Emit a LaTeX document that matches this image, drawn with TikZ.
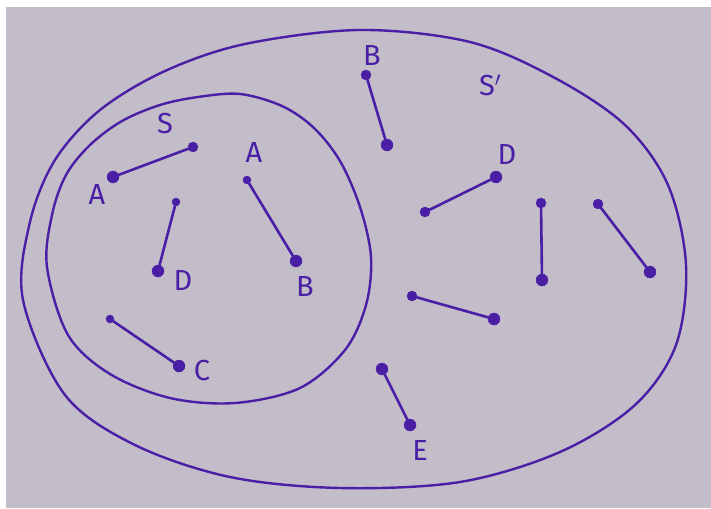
\documentclass[tikz,border=0pt]{standalone}
\usepackage{fontspec}
\setmainfont{Fira Sans}
\definecolor{paper}{HTML}{C2BDC9}
\definecolor{ink}{HTML}{4A1FA6}
\begin{document}
\begin{tikzpicture}[x=1pt,y=-1pt,
  dot/.style={circle,fill=ink,draw=ink,inner sep=0pt,minimum size=10pt},
  bigdot/.style={dot,minimum size=12pt},
  seg/.style={draw=ink,line width=2.6pt,line cap=round},
  rim/.style={draw=ink,line width=2.4pt},
  lab/.style={text=ink,font=\fontsize{29}{29}\selectfont,inner sep=0pt}]
\fill[white] (0,0) rectangle (711,508);
\fill[paper] (6,7) rectangle (711,508);
\useasboundingbox (0,0) rectangle (711,508);
% outer set S'
\draw[rim] plot[smooth cycle,tension=0.55] coordinates {
 (23,300) (30,222) (55,160) (100,110) (165,71) (245,44) (360,30)
 (470,42) (555,78) (625,125) (668,185) (686,265)
 (676,345) (635,405) (560,452) (460,482) (340,488)
 (230,477) (135,445) (65,395)};
% inner set S
\draw[rim] plot[smooth cycle,tension=0.55] coordinates {
 (47,267) (52,215) (66,175) (90,145) (122,121) (160,105) (198,97)
 (240,94) (282,106) (314,128) (340,161) (360,207) (371,257)
 (366,305) (345,350) (300,388) (235,403) (170,398) (110,374) (68,335)};
% labels
\node[lab] (lS) at (165,124) {S};
\node[lab] (lSp) at (490,85) {S$'$};
% inside S
\node[bigdot] (a1) at (113,177) {};
\node[dot] (a2) at (193,147) {};
\node[lab] (lA1) at (97,195) {A};
\draw[seg] (a1) -- (a2);
\node[dot,minimum size=8pt] (d1) at (176,202) {};
\node[bigdot] (d2) at (158,271) {};
\node[lab] (lD1) at (183,281) {D};
\draw[seg] (d1) -- (d2);
\node[dot,minimum size=8pt] (a3) at (247,180) {};
\node[bigdot] (b1) at (296,261) {};
\node[lab] (lA2) at (254,153) {A};
\node[lab] (lB1) at (305,287) {B};
\draw[seg] (a3) -- (b1);
\node[dot,minimum size=8pt] (c0) at (110,319) {};
\node[bigdot] (c1) at (179,366) {};
\node[lab] (lC) at (202,371) {C};
\draw[seg] (c0) -- (c1);
% outside S
\node[dot] (b2) at (366,75) {};
\node[bigdot] (b3) at (387,145) {};
\node[lab] (lB2) at (372,56) {B};
\draw[seg] (b2) -- (b3);
\node[bigdot] (d3) at (496,177) {};
\node[dot] (d4) at (425,212) {};
\node[lab] (lD2) at (507,155) {D};
\draw[seg] (d3) -- (d4);
\node[dot] (v1) at (541,203) {};
\node[bigdot] (v2) at (542,280) {};
\draw[seg] (v1) -- (v2);
\node[dot] (w1) at (598,204) {};
\node[bigdot] (w2) at (650,272) {};
\draw[seg] (w1) -- (w2);
\node[dot] (h1) at (412,296) {};
\node[bigdot] (h2) at (494,319) {};
\draw[seg] (h1) -- (h2);
\node[bigdot] (e1) at (382,369) {};
\node[bigdot] (e2) at (410,425) {};
\node[lab] (lE) at (420,451) {E};
\draw[seg] (e1) -- (e2);
\end{tikzpicture}
\end{document}
